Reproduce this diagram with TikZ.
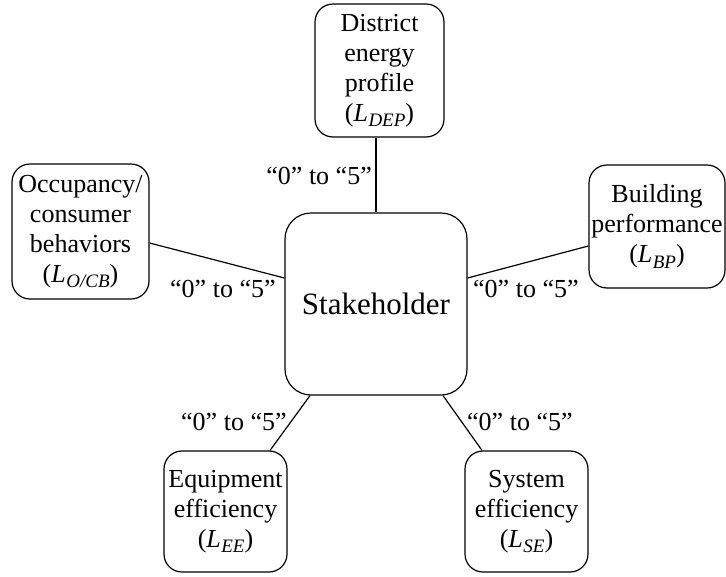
\documentclass[tikz,border=0pt]{standalone}
\usepackage{fontspec}
\setmainfont{Liberation Serif}
\usetikzlibrary{calc}

\tikzset{
  box/.style={draw, line width=1.2pt, rounded corners=18pt, align=center,
    inner sep=0pt, font=\fontsize{26}{30}\selectfont},
  hub/.style={draw, line width=1.2pt, rounded corners=26pt, inner sep=0pt,
    minimum width=182pt, minimum height=182pt, font=\fontsize{31}{36}\selectfont},
  conn/.style={line width=1.2pt},
  lbl/.style={inner sep=0pt, font=\fontsize{26}{30}\selectfont}
}

% level symbol: italic L with a large italic subscript
\newcommand{\lvl}[1]{(\textit{L}\kern0.5pt\raisebox{-0.22em}{\fontsize{19}{19}\selectfont\itshape #1})}
\newcommand{\range}{“0” to “5”}

\begin{document}
\begin{tikzpicture}[x=1pt, y=-1pt]
  \useasboundingbox (0,0) rectangle (726,576);

  % central stakeholder block
  \node[hub] (sh) at (376,304) {Stakeholder};

  % the five surrounding factors
  \node[box, minimum width=129pt, minimum height=133pt] (dep) at (379.5,70.5)
    {District\\energy\\profile\\\lvl{DEP}};
  \node[box, minimum width=137pt, minimum height=135pt] (occ) at (80.5,231.5)
    {Occupancy/\\consumer\\behaviors\\\lvl{O/CB}};
  \node[box, minimum width=136pt, minimum height=123pt] (bp) at (657,226.5)
    {Building\\performance\\\lvl{BP}};
  \node[box, minimum width=123pt, minimum height=121pt] (ee) at (225.5,511.5)
    {Equipment\\efficiency\\\lvl{EE}};
  \node[box, minimum width=123pt, minimum height=121pt] (se) at (526.5,511.5)
    {System\\efficiency\\\lvl{SE}};

  % connectors
  \draw[conn] (sh.north) -- (sh.north |- dep.south);
  \draw[conn] ($(occ.east)+(0,11.5)$) -- ($(sh.west)+(0,-26)$);
  \draw[conn] ($(bp.west)+(0,19.5)$) -- ($(sh.east)+(0,-26)$);
  \draw[conn] ($(ee.north)+(44.5,0)$) -- ($(sh.south)+(-66,0)$);
  \draw[conn] ($(se.north)+(-44.5,0)$) -- ($(sh.south)+(67,0)$);

  % rating ranges
  \node[lbl, anchor=base east] (r1) at (372,184) {\range};
  \node[lbl, anchor=base west] (r2) at (170,297) {\range};
  \node[lbl, anchor=base west] (r3) at (473,297) {\range};
  \node[lbl, anchor=base west] (r4) at (181,430) {\range};
  \node[lbl, anchor=base west] (r5) at (467,430) {\range};
\end{tikzpicture}
\end{document}
